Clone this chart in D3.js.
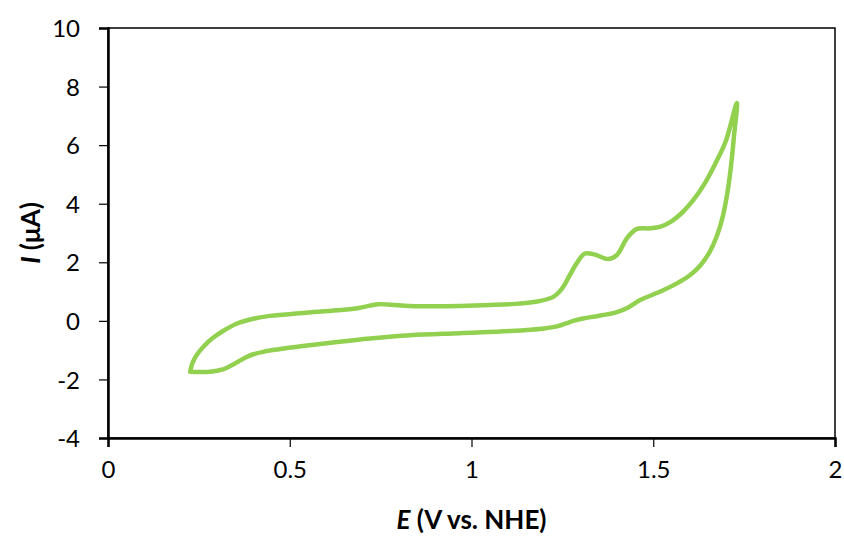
<!DOCTYPE html>
<html><head><meta charset="utf-8">
<script src="https://cdn.jsdelivr.net/npm/d3@7"></script>
<style>body{margin:0;background:#fff}svg{display:block}</style>
</head><body>
<svg id="c" width="844" height="536"></svg>
<script>
// Forward (upper) branch then return (lower) branch of the CV loop
const potential = [0.226,0.232,0.245,0.265,0.289,0.32,0.355,0.40,0.446,0.536,0.630,0.690,0.72,0.745,0.78,0.83,0.90,0.968,1.05,1.12,1.188,1.225,1.250,1.270,1.290,1.312,1.340,1.376,1.400,1.428,1.455,1.490,1.52,1.55,1.58,1.61,1.64,1.67,1.70,1.730,
  1.722,1.714,1.703,1.690,1.675,1.655,1.630,1.600,1.565,1.530,1.500,1.464,1.430,1.400,1.373,1.340,1.307,1.280,1.260,1.235,1.200,1.106,0.968,0.831,0.721,0.630,0.536,0.470,0.430,0.400,0.380,0.360,0.340,0.316,0.281,0.226];
const current = [-1.74,-1.45,-1.15,-0.85,-0.58,-0.32,-0.09,0.07,0.17,0.27,0.36,0.44,0.52,0.57,0.55,0.51,0.50,0.51,0.54,0.58,0.68,0.82,1.12,1.55,1.98,2.30,2.26,2.11,2.25,2.83,3.14,3.16,3.22,3.40,3.70,4.12,4.66,5.35,6.15,7.44,
  6.3,5.3,4.3,3.5,2.9,2.35,1.90,1.55,1.28,1.06,0.90,0.71,0.45,0.30,0.22,0.15,0.08,0.00,-0.09,-0.19,-0.26,-0.35,-0.42,-0.49,-0.60,-0.72,-0.86,-0.97,-1.05,-1.14,-1.24,-1.38,-1.52,-1.66,-1.74,-1.74];
const xTicks = [0,0.5,1,1.5,2];
const xTickLabels = ["0","0.5","1","1.5","2"];
const yTicks = [-4,-2,0,2,4,6,8,10];
const yTickLabels = ["-4","-2","0","2","4","6","8","10"];

const svg = d3.select("#c");
const L=108, R=835, T=28, B=438;
const x = d3.scaleLinear().domain([0,2]).range([L,R]);
const y = d3.scaleLinear().domain([-4,10]).range([B,T]);
const font = "Lato, 'Open Sans', sans-serif";

// frame
svg.append("rect").attr("x",L).attr("y",T).attr("width",R-L).attr("height",B-T)
  .attr("fill","none").attr("stroke","#000").attr("stroke-width",1.5);

const xa = svg.append("g").attr("transform",`translate(0,${B})`)
  .call(d3.axisBottom(x).tickValues(xTicks).tickFormat((d,i)=>xTickLabels[i]).tickSize(9).tickPadding(14));
const ya = svg.append("g").attr("transform",`translate(${L},0)`)
  .call(d3.axisLeft(y).tickValues(yTicks).tickFormat((d,i)=>yTickLabels[i]).tickSize(9).tickPadding(19));
[xa,ya].forEach(a=>{
  a.select(".domain").attr("stroke","#000").attr("stroke-width",2.5);
  a.selectAll(".tick line").attr("stroke","#000").attr("stroke-width",1.2);
  a.selectAll("text").attr("font-family",font).attr("font-size",24).attr("fill","#000");
});
xa.selectAll("text").attr("dy","0.71em");
ya.selectAll("text").attr("dy","0.36em");

const pts = potential.map((e,i)=>[e,current[i]]);
svg.append("path").datum(pts)
  .attr("d", d3.line().x(d=>x(d[0])).y(d=>y(d[1])).curve(d3.curveCatmullRom.alpha(0.5)))
  .attr("fill","none").attr("stroke","#92D050").attr("stroke-width",4.5)
  .attr("stroke-linejoin","round").attr("stroke-linecap","round");

// axis titles
const xt = svg.append("text").attr("x",(L+R)/2).attr("y",529).attr("text-anchor","middle")
  .attr("font-family",font).attr("font-size",26).attr("font-weight","bold");
xt.append("tspan").attr("font-style","italic").text("E");
xt.append("tspan").text(" (V vs. NHE)");
const yt = svg.append("text").attr("transform",`translate(40,${(T+B)/2}) rotate(-90)`).attr("text-anchor","middle")
  .attr("font-family",font).attr("font-size",26).attr("font-weight","bold");
yt.append("tspan").attr("font-style","italic").text("I");
yt.append("tspan").text(" (μA)");
</script>
</body></html>
